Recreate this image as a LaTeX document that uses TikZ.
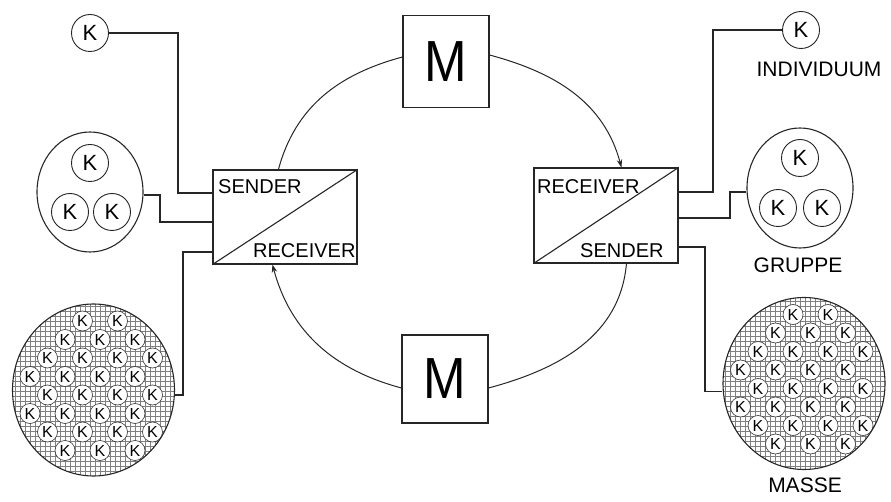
\documentclass[tikz,border=0pt]{standalone}
\usepackage{fontspec}
\setmainfont{Liberation Sans}
\usepackage{graphicx}
\usetikzlibrary{shapes.geometric,arrows.meta,calc}

\newcommand\mymass[3]{%
  \begin{scope}
    \clip (#1,#2) ellipse [x radius=81, y radius=86];
    \draw[hatchline] (#1-95,#2-95) grid[step=5] (#1+95,#2+95);
    \foreach \j in {-6,...,6}{
      \foreach \i in {-3,...,3}{
        \pgfmathsetmacro\xo{mod(abs(\j),2)==1 ? 6.5 : -11}
        \pgfmathsetmacro\px{35*\i+\xo}
        \pgfmathsetmacro\py{-5+18.5*\j}
        \pgfmathparse{(\px/74)^2+(\py/79)^2}
        \ifdim\pgfmathresult pt<1pt
          \node[mk] (#3\i x\j) at (#1+\px, #2+\py) {K};
        \fi
      }}
  \end{scope}}

\begin{document}
\begin{tikzpicture}[x=1pt,y=1pt,
  conn/.style={line width=1.1pt, draw=black!85},
  sr/.style={draw=black!85, line width=1.1pt, minimum width=144, minimum height=94, inner sep=0},
  mbox/.style={draw=black!85, line width=1.1pt, minimum width=86, minimum height=92, inner sep=0,
     font=\fontsize{58}{58}\selectfont},
  kc/.style={draw=black!85, circle, line width=0.9pt, minimum size=37, inner sep=0,
     font=\fontsize{22}{22}\selectfont},
  grp/.style={draw=black!85, ellipse, line width=1.1pt, minimum width=106, minimum height=120, inner sep=0},
  massbox/.style={draw=black!85, ellipse, line width=1.1pt, minimum width=162, minimum height=172, inner sep=0},
  mk/.style={draw=black!80, circle, fill=white, line width=0.6pt, minimum size=20, inner sep=0,
     font=\fontsize{16}{16}\selectfont},
  hatchline/.style={draw=black!50, line width=0.45pt},
  lbl/.style={inner sep=0, font=\fontsize{20}{20}\selectfont},
  captxt/.style={inner sep=0, font=\fontsize{21}{21}\selectfont},
  arrline/.style={line width=1pt, draw=black!85, -{Stealth[length=8pt,width=5.5pt]}},
  arcline/.style={line width=1pt, draw=black!85}
]
\path[use as bounding box] (0,0) rectangle (891,501);

% central boxes
\node[mbox] (mtop) at (446,439.5) {\scalebox{0.88}[1]{M}};
\node[mbox, minimum height=88] (mbot) at (445,122) {\scalebox{0.88}[1]{M}};
\node[sr] (lbox) at (285,284) {};
\node[sr, minimum height=95] (rbox) at (606,285.5) {};
\draw[conn] (lbox.south west) -- (lbox.north east);
\draw[conn] (rbox.south west) -- (rbox.north east);
\node[lbl, anchor=base west] (ls) at (218,307) {SENDER};
\node[lbl, anchor=base west] (lr) at (253,243) {RECEIVER};
\node[lbl, anchor=base west] (rr) at (537,307) {RECEIVER};
\node[lbl, anchor=base west] (rs) at (580,243) {SENDER};

% cycle
\draw[arcline] ([yshift=4.5]mtop.west) to[out=195,in=75] ([xshift=66]lbox.north west);
\draw[arrline] ([yshift=6.5]mtop.east) to[out=-15,in=105] ([xshift=88]rbox.north west);
\draw[arcline] ([xshift=93]rbox.south west) to[out=265,in=15] ([yshift=-9]mbot.east);
\draw[arrline] ([yshift=-9]mbot.west) to[out=165,in=285] ([xshift=60]lbox.south west);

% left side
\node[kc] (kL) at (90,468) {K};
\node[grp] (gL) at (90,309) {};
\node[kc] (gL1) at (90,338) {K};
\node[kc] (gL2) at (70,289) {K};
\node[kc] (gL3) at (112,289) {K};
\mymass{93.5}{111}{L}
\node[massbox] (massL) at (93.5,111) {};

\coordinate (c1) at (178,308);
\coordinate (c2) at (160,279);
\coordinate (c3) at (183,249);
\draw[conn] (kL.east) -| (c1) -- (c1 -| lbox.west);
\draw[conn] ([yshift=-3]gL.east) -| (c2) -- (c2 -| lbox.west);
\draw[conn] (c3 -| lbox.west) -- (c3) |- ([yshift=-5]massL.east);

% right side
\node[kc] (kR) at (801,471) {K};
\node[captxt] (tind) at (819,431.5) {INDIVIDUUM};
\node[grp] (gR) at (800,313) {};
\node[kc] (gR1) at (800,343) {K};
\node[kc] (gR2) at (778,293) {K};
\node[kc] (gR3) at (822,293) {K};
\node[captxt] (tgrp) at (798,235.5) {GRUPPE};
\mymass{804}{117.5}{R}
\node[massbox] (massR) at (804,117.5) {};
\node[captxt] (tmas) at (805,15.5) {MASSE};

\coordinate (c4) at (713,309);
\coordinate (c5) at (730,283);
\coordinate (c6) at (705,254);
\draw[conn] (kR.west) -| (c4) -- (c4 -| rbox.east);
\draw[conn] (c5 -| rbox.east) -- (c5) |- ([yshift=-4]gR.west);
\draw[conn] (c6 -| rbox.east) -- (c6) |- ([yshift=-8]massR.west);
\end{tikzpicture}
\end{document}
